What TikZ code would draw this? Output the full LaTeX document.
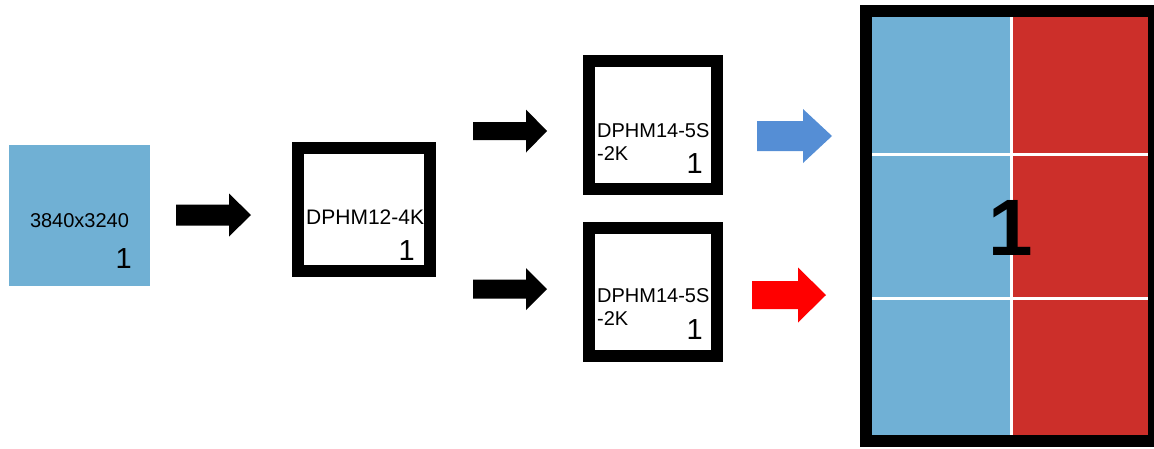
\documentclass[tikz,border=0pt]{standalone}
\usepackage{fontspec}
\setmainfont{Liberation Sans}
\definecolor{srcblue}{RGB}{112,176,212}
\definecolor{cellblue}{RGB}{112,176,213}
\definecolor{cellred}{RGB}{204,47,42}
\definecolor{arrblue}{RGB}{85,142,213}
\definecolor{arrred}{RGB}{255,0,0}
\newcommand{\blockarr}[7]{% color, xstart, xbase, xtip, ymid, shaft half, head half
  \fill[#1] (#2,#5-#6) -- (#3,#5-#6) -- (#3,#5-#7) -- (#4,#5) -- (#3,#5+#7) -- (#3,#5+#6) -- (#2,#5+#6) -- cycle;}
\begin{document}
\begin{tikzpicture}[x=1pt,y=-1pt,
  dev/.style={draw=black,line width=12pt,fill=white,inner sep=0pt,minimum width=#1},
  lbl/.style={inner sep=0pt,font=\fontsize{20}{23}\selectfont},
  num/.style={inner sep=0pt,anchor=base east,font=\fontsize{29}{30}\selectfont}]
\useasboundingbox (0,0) rectangle (1154,448);
% source
\node[fill=srcblue,inner sep=0pt,minimum width=141pt,minimum height=141pt] (src) at (79.5,215.5) {};
\node[lbl,anchor=base] (srct) at (79.5,227) {3840x3240};
\node[num] (srcn) at (132,268) {1};
% converter
\node[dev=132pt,minimum height=123pt] (conv) at (364,209.5) {};
\node[lbl,anchor=base west,font=\fontsize{21}{23}\selectfont] (convt) at (306,224) {DPHM12-4K};
\node[num] (convn) at (415,260) {1};
% outputs
\node[dev=128pt,minimum height=128pt] (out1) at (653,125) {};
\node[lbl,anchor=base west,align=left] (out1t) at (597,160) {DPHM14-5S\\-2K};
\node[num] (out1n) at (703,173) {1};
\node[dev=128pt,minimum height=128pt] (out2) at (653,292) {};
\node[lbl,anchor=base west,align=left] (out2t) at (597,325) {DPHM14-5S\\-2K};
\node[num] (out2n) at (703,339) {1};
% wall
\fill[cellblue] (872,17) rectangle (1011,435);
\fill[cellred] (1011,17) rectangle (1148,435);
\draw[white,line width=3pt] (1011,17) -- (1011,435);
\draw[white,line width=3pt] (872,154) -- (1148,154);
\draw[white,line width=3pt] (872,298) -- (1148,298);
\node[draw=black,line width=12pt,inner sep=0pt,minimum width=288pt,minimum height=430pt] (wall) at (1010,226) {};
\node[inner sep=0pt,anchor=base,font=\bfseries\fontsize{80}{80}\selectfont] (walln) at (1011,255) {1};
% arrows
\blockarr{black}{176}{229}{251}{215}{10.5}{21.5}
\blockarr{black}{473}{526}{547}{131}{9}{21.5}
\blockarr{black}{473}{526}{547}{289}{9.5}{21}
\blockarr{arrblue}{757}{803}{832}{136}{15}{27}
\blockarr{arrred}{752}{798}{826}{295}{14}{27.5}
\end{tikzpicture}
\end{document}
